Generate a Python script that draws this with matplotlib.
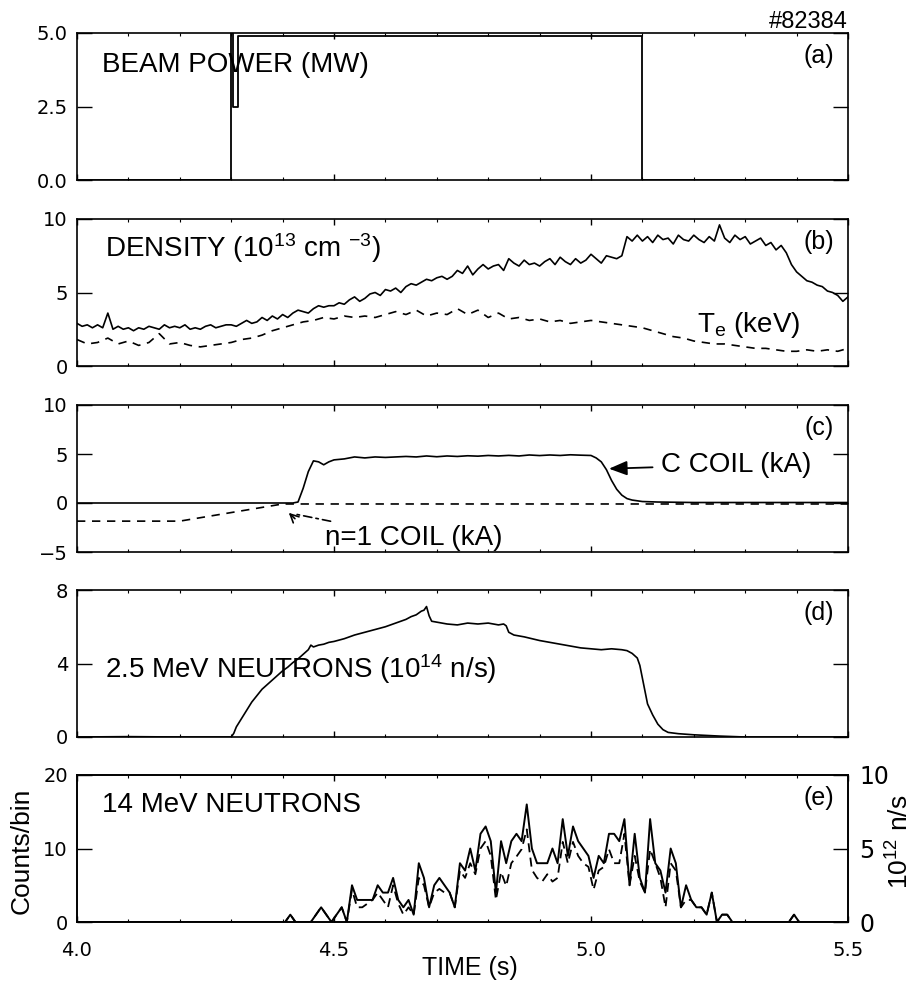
import numpy as np
import matplotlib
matplotlib.use('Agg')
import matplotlib.pyplot as plt

plt.rcParams['font.family'] = ['Liberation Sans', 'DejaVu Sans']
plt.rcParams['mathtext.fontset'] = 'custom'
plt.rcParams['mathtext.rm'] = 'Liberation Sans'
plt.rcParams['mathtext.it'] = 'Liberation Sans:italic'
plt.rcParams['axes.linewidth'] = 1.2

# (a) beam power, step trace
beam_time = [4.0, 4.300, 4.303, 4.313, 5.100, 5.5]
beam_power = [0.0, 5.0, 2.5, 4.9, 0.0, 0.0]

# (b) density, sampled every 10 ms
dens_time = np.round(np.arange(4.00, 5.5001, 0.01), 3)
density = [2.9, 2.7, 2.8, 2.6, 2.8, 2.6, 3.6, 2.5, 2.7, 2.5,
           2.6, 2.4, 2.6, 2.5, 2.7, 2.6, 2.5, 2.8, 2.6, 2.7,
           2.6, 2.8, 2.5, 2.6, 2.5, 2.7, 2.8, 2.6, 2.7, 2.8,
           2.8, 2.7, 2.9, 3.1, 2.9, 3.0, 3.3, 3.1, 3.4, 3.2,
           3.5, 3.3, 3.6, 3.8, 3.7, 3.6, 3.9, 4.1, 4.0, 4.1,
           4.1, 4.3, 4.2, 4.5, 4.7, 4.4, 4.6, 4.9, 5.0, 4.8,
           5.2, 5.1, 5.3, 5.0, 5.4, 5.6, 5.5, 5.7, 5.9, 5.8,
           6.0, 6.1, 5.9, 6.1, 6.5, 6.3, 6.8, 6.2, 6.6, 6.9,
           6.6, 6.8, 6.9, 6.5, 7.3, 7.0, 6.8, 7.2, 6.9, 7.0,
           6.8, 7.1, 7.3, 6.9, 7.4, 7.1, 6.9, 7.3, 7.0, 7.2,
           7.6, 7.3, 7.0, 7.5, 7.4, 7.3, 7.5, 8.8, 8.5, 8.9,
           8.5, 8.8, 8.4, 8.9, 8.6, 8.7, 8.3, 8.9, 8.6, 8.5,
           8.9, 8.6, 8.4, 8.8, 8.5, 9.6, 8.7, 8.4, 8.9, 8.6,
           8.8, 8.3, 8.5, 8.7, 8.2, 8.4, 7.9, 8.2, 7.7, 6.9,
           6.4, 6.1, 5.8, 5.7, 5.5, 5.4, 5.1, 5.0, 4.8, 4.4,
           4.7]

# (b) electron temperature, every 20 ms
te_time = np.round(np.arange(4.00, 5.5001, 0.02), 3)
te = [1.8, 1.5, 1.6, 1.9, 1.5, 1.7, 1.4, 1.6, 2.2, 1.5,
      1.6, 1.4, 1.3, 1.4, 1.5, 1.6, 1.8, 1.9, 2.1, 2.4,
      2.6, 2.8, 3.0, 3.1, 3.3, 3.2, 3.4, 3.3, 3.4, 3.3,
      3.5, 3.7, 3.5, 3.8, 3.4, 3.6, 3.5, 3.9, 3.5, 3.8,
      3.3, 3.6, 3.2, 3.3, 3.1, 3.2, 3.0, 3.1, 2.9, 3.0,
      3.1, 3.0, 2.9, 2.8, 2.7, 2.6, 2.4, 2.2, 2.0, 1.9,
      1.7, 1.6, 1.5, 1.5, 1.4, 1.3, 1.2, 1.2, 1.1, 1.0,
      1.0, 1.1, 1.0, 1.1, 1.0, 1.2]

# (c) C coil and n=1 coil currents (kA)
ccoil_time = [4.00, 4.42, 4.43, 4.44, 4.45, 4.46, 4.47, 4.48, 4.49,
              4.50, 4.52, 4.54, 4.56, 4.58, 4.60, 4.62, 4.64, 4.66, 4.68,
              4.70, 4.72, 4.74, 4.76, 4.78, 4.80, 4.82, 4.84, 4.86, 4.88,
              4.90, 4.92, 4.94, 4.96, 4.98, 5.00,
              5.01, 5.02, 5.03, 5.04, 5.05, 5.06, 5.07, 5.08, 5.10, 5.13,
              5.20, 5.50]
ccoil = [0.0, 0.0, 0.1, 1.5, 3.2, 4.3, 4.2, 3.9, 4.2,
         4.4, 4.5, 4.7, 4.6, 4.7, 4.65, 4.7, 4.75, 4.7, 4.8,
         4.72, 4.8, 4.75, 4.82, 4.78, 4.85, 4.8, 4.86, 4.8, 4.9,
         4.84, 4.9, 4.85, 4.92, 4.88, 4.85,
         4.6, 4.2, 3.4, 2.3, 1.4, 0.8, 0.45, 0.3, 0.15, 0.1,
         0.05, 0.05]
n1_time = [4.00, 4.20, 4.40, 5.50]
n1_coil = [-1.85, -1.85, -0.1, -0.1]

# (d) 2.5 MeV neutrons (1e14 n/s)
dd_time = [4.00, 4.10, 4.20, 4.30, 4.305, 4.31, 4.32, 4.33, 4.34, 4.35,
           4.36, 4.37, 4.38, 4.39, 4.40, 4.41, 4.42, 4.43, 4.44, 4.45,
           4.455, 4.46, 4.47, 4.48, 4.49, 4.50, 4.52, 4.54, 4.56, 4.58,
           4.60, 4.62, 4.64, 4.65, 4.66, 4.67, 4.675, 4.68, 4.685, 4.69,
           4.70, 4.72, 4.74, 4.76, 4.78, 4.80, 4.82, 4.83, 4.835, 4.84,
           4.85, 4.87, 4.90, 4.92, 4.94, 4.96, 4.98, 5.00, 5.02, 5.04,
           5.06, 5.07, 5.08, 5.09, 5.095, 5.10, 5.105, 5.11, 5.12, 5.13,
           5.14, 5.15, 5.17, 5.20, 5.25, 5.30, 5.50]
dd_neut = [0.0, 0.02, 0.0, 0.0, 0.2, 0.55, 1.0, 1.45, 1.9, 2.25,
           2.6, 2.85, 3.1, 3.35, 3.6, 3.8, 4.05, 4.25, 4.5, 4.75,
           5.0, 4.9, 5.0, 5.05, 5.15, 5.2, 5.35, 5.55, 5.7, 5.85,
           6.0, 6.2, 6.4, 6.55, 6.65, 6.85, 6.9, 7.1, 6.6, 6.3,
           6.25, 6.15, 6.1, 6.2, 6.15, 6.2, 6.1, 6.15, 6.05, 5.7,
           5.55, 5.45, 5.25, 5.15, 5.05, 4.95, 4.85, 4.8, 4.75, 4.8,
           4.75, 4.7, 4.55, 4.3, 3.9, 3.2, 2.5, 1.8, 1.2, 0.7,
           0.4, 0.25, 0.18, 0.12, 0.05, 0.0, 0.0]

# (e) 14 MeV neutrons, 10 ms bins
bin_time = np.round(np.arange(4.005, 5.5, 0.01), 3)
counts = ([0] * 40 +
          [0, 1, 0, 0, 0, 0, 1, 2, 1, 0,
           1, 2, 0, 5, 3, 3, 3, 3, 5, 4,
           4, 6, 3, 2, 3, 1, 8, 6, 2, 5,
           6, 5, 4, 2, 8, 7, 10, 7, 12, 13,
           11, 4, 11, 8, 11, 12, 11, 16, 10, 8,
           8, 8, 10, 8, 14, 9, 13, 11, 10, 9,
           6, 9, 8, 12, 12, 11, 14, 5, 12, 6,
           4, 14, 8, 7, 4, 10, 8, 2, 5, 3,
           2, 2, 1, 4, 0, 1, 1, 0, 0, 0,
           0, 0, 0, 0, 0, 0, 0, 0, 0, 1] +
          [0] * 10)
rate = ([0] * 40 +
        [0, 0.5, 0, 0, 0, 0, 0.5, 1, 0.5, 0,
         0.5, 1, 0, 2.2, 1, 1, 1.25, 1.5, 2, 1.5,
         1, 2.5, 1.25, 0.5, 1, 0.5, 3, 2.5, 1, 2,
         2.25, 2, 2, 1, 3.5, 3, 4, 3.25, 5, 5.5,
         4.5, 1.5, 3.4, 2.45, 4, 4.45, 4.95, 6.3, 3.55, 3,
         2.75, 3.25, 2.75, 3, 5.45, 4, 5.45, 4.5, 4, 3.75,
         2.2, 3.5, 3.75, 4.95, 4, 4, 6, 2.5, 4.5, 2.75,
         2, 4.95, 4, 3, 1, 4, 3.5, 1, 1.5, 1.5,
         1, 1, 0.5, 2, 0, 0.5, 0.5, 0, 0, 0,
         0, 0, 0, 0, 0, 0, 0, 0, 0, 0.5] +
        [0] * 10)

fig = plt.figure(figsize=(9.12, 9.92), dpi=100)
L, W, H = 77 / 912, 771 / 912, 147 / 992
tops = [33, 219, 405, 590, 775]
axes = [fig.add_axes([L, 1 - (t + 147) / 992, W, H]) for t in tops]

yticks = [[0, 2.5, 5], [0, 5, 10], [-5, 0, 5, 10], [0, 4, 8], [0, 10, 20]]
ylabs = [['0.0', '2.5', '5.0'], ['0', '5', '10'], ['\u22125', '0', '5', '10'],
         ['0', '4', '8'], ['0', '10', '20']]
ylims = [(0, 5), (0, 10), (-5, 10), (0, 8), (0, 20)]
tags = ['(a)', '(b)', '(c)', '(d)', '(e)']

for ax, yt, yl, lim, tag in zip(axes, yticks, ylabs, ylims, tags):
    ax.set_xlim(4.0, 5.5)
    ax.set_ylim(*lim)
    ax.set_xticks([4.0, 4.5, 5.0, 5.5])
    ax.set_xticks(np.arange(4.0, 5.51, 0.1), minor=True)
    ax.set_yticks(yt, yl, fontfamily='DejaVu Sans', fontsize=14)
    ax.tick_params(axis='x', which='both', direction='in', top=True, bottom=True,
                   labelbottom=False)
    ax.tick_params(axis='x', which='major', length=4, width=1)
    ax.tick_params(axis='x', which='minor', length=2.5, width=0.8)
    ax.tick_params(axis='y', direction='in', left=True, right=True, length=11,
                   width=1, pad=6.5)
    ax.text(0.982, 0.796, tag, transform=ax.transAxes, ha='right',
            va='baseline', fontsize=18)

ax_a, ax_b, ax_c, ax_d, ax_e = axes

# (a)
ax_a.plot(beam_time, beam_power, color='black', lw=1.3, drawstyle='steps-post')
ax_a.text(0.032, 0.735, 'BEAM POWER (MW)', transform=ax_a.transAxes,
          fontsize=20, va='baseline')
ax_a.text(1.0, 1.034, '#82384', transform=ax_a.transAxes, ha='right',
          va='baseline', fontsize=17)

# (b)
ax_b.plot(dens_time, density, color='black', lw=1.2)
ax_b.plot(te_time, te, color='black', lw=1.2, dashes=(5, 4))
ax_b.text(0.036, 0.74, 'DENSITY (10$^{13}$ cm $^{-3}$)', transform=ax_b.transAxes,
          fontsize=20, va='baseline')
ax_b.text(5.206, 2.33, 'T$_{\\mathrm{e}}$ (keV)', fontsize=20, va='baseline')

# (c)
ax_c.plot(ccoil_time, ccoil, color='black', lw=1.2)
ax_c.plot(n1_time, n1_coil, color='black', lw=1.2, dashes=(5, 4))
ax_c.annotate('C COIL (kA)', xy=(5.035, 3.5), xytext=(5.136, 3.2),
              fontsize=20, va='baseline',
              arrowprops=dict(arrowstyle='-|>,head_length=0.55,head_width=0.22',
                              color='black', lw=1.3, shrinkA=4, shrinkB=0))
ax_c.annotate('n=1 COIL (kA)', xy=(4.412, -1.0), xytext=(4.483, -4.3),
              fontsize=20, va='baseline',
              arrowprops=dict(arrowstyle='-', color='black', lw=1.2,
                              linestyle=(0, (5, 2.5, 1.5, 2.5)),
                              shrinkA=4, shrinkB=4))
ax_c.annotate('', xy=(4.412, -1.0), xytext=(4.424, -1.6),
              arrowprops=dict(arrowstyle='->,head_length=0.6,head_width=0.3',
                              color='black', lw=1.2, shrinkA=0, shrinkB=0))

# (d)
ax_d.plot(dd_time, dd_neut, color='black', lw=1.2)
ax_d.text(0.036, 0.40, '2.5 MeV NEUTRONS (10$^{14}$ n/s)', transform=ax_d.transAxes,
          fontsize=20, va='baseline')

# (e)
ax_e.plot(bin_time, counts, color='black', lw=1.4)
ax_e.tick_params(axis='y', right=False)
ax_e.set_xticklabels(['4.0', '4.5', '5.0', '5.5'], fontfamily='DejaVu Sans', fontsize=14)
ax_e.tick_params(axis='x', labelbottom=True, pad=14)
ax_e.text(0.032, 0.75, '14 MeV NEUTRONS', transform=ax_e.transAxes,
          fontsize=20, va='baseline')
ax_e2 = ax_e.twinx()
ax_e2.plot(bin_time, rate, color='black', lw=1.3, dashes=(5, 3))
ax_e2.set_ylim(0, 10)
ax_e2.set_yticks([0, 5, 10], ['0', '5', '10'], fontfamily='DejaVu Sans', fontsize=17)
ax_e2.tick_params(axis='y', direction='in', length=11, width=1, pad=8)

fig.text(22 / 912, 1 - 851 / 992, 'Counts/bin', rotation=90, ha='center',
         va='center', fontsize=19)
fig.text(900 / 912, 1 - 842 / 992, '10$^{12}$ n/s', rotation=90, ha='center',
         va='center', fontsize=19)
fig.text(470 / 912, 1 - 968 / 992, 'TIME (s)', ha='center', va='center', fontsize=18)

fig.savefig('out.png', dpi=100)
